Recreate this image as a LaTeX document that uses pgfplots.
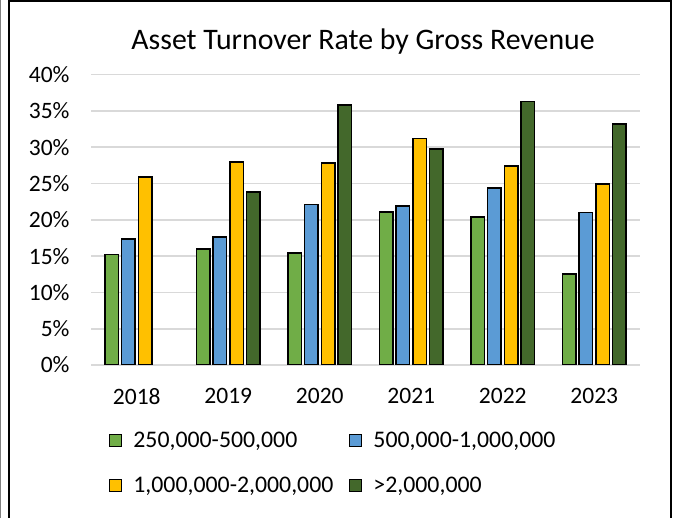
\documentclass[border=0pt]{standalone}
\usepackage{pgfplots}
\pgfplotsset{compat=1.18}
\usepackage{fontspec}
\setmainfont{Carlito}
\definecolor{cgreen}{HTML}{70AD47}
\definecolor{cblue}{HTML}{5B9BD5}
\definecolor{cyellow}{HTML}{FFC000}
\definecolor{cdark}{HTML}{43682B}
\definecolor{cgrid}{HTML}{D9D9D9}
\begin{document}
\begin{tikzpicture}[x=1bp,y=1bp]
\useasboundingbox (0,0) rectangle (675,518);
\fill[white] (0,0) rectangle (675,518);
\draw[line width=1bp,gray] (0.5,-5) -- (0.5,523);
\draw[line width=2.5bp,black] (9,-5) -- (9,517) -- (671,517) -- (671,-5);
\node[font=\fontsize{29.8bp}{34bp}\selectfont] at (363,476) {Asset Turnover Rate by Gross Revenue};
\begin{axis}[
  at={(91bp,153bp)}, anchor=south west,
  scale only axis, width=549bp, height=290.3bp,
  ymin=0, ymax=40, xmin=-0.5, xmax=5.5,
  ybar=3.2bp, bar width=13.5bp,
  xtick={0,1,2,3,4,5},
  xticklabels={2018,2019,2020,2021,2022,2023},
  ytick={0,5,10,15,20,25,30,35,40},
  yticklabel={\pgfmathprintnumber{\tick}\%},
  /pgf/number format/assume math mode=true,
  ymajorgrids, grid style={cgrid, line width=1.6bp},
  axis y line*=left,
  y axis line style={draw=none},
  axis x line*=bottom,
  x axis line style={cgrid, line width=1.6bp, -},
  major tick length=0pt,
  tick label style={font=\fontsize{23.5bp}{27bp}\selectfont},
  yticklabel style={xshift=-18bp},
  xticklabel style={yshift=-20bp},
  legend columns=2,
  legend cell align=left,
  legend style={draw=none, at={(axis description cs:0,0)}, anchor=north west,
     xshift=15bp, yshift=-63bp, font=\fontsize{23.8bp}{27bp}\selectfont,
     /tikz/every odd column/.append style={column sep=9bp},
     /tikz/every even column/.append style={column sep=14bp},
     row sep=24bp},
  legend image code/.code={\draw[#1,line width=1.2bp] (0bp,-6bp) rectangle (12bp,6bp);},
]
\addplot[draw=black, line width=1.6bp, fill=cgreen] coordinates {(0,15.2) (1,16.0) (2,15.4) (3,21.1) (4,20.4) (5,12.5)};
\addplot[draw=black, line width=1.6bp, fill=cblue] coordinates {(0,17.4) (1,17.6) (2,22.1) (3,21.9) (4,24.4) (5,21.0)};
\addplot[draw=black, line width=1.6bp, fill=cyellow] coordinates {(0,25.9) (1,28.0) (2,27.8) (3,31.2) (4,27.4) (5,24.9)};
\addplot[draw=black, line width=1.6bp, fill=cdark] coordinates {(1,23.8) (2,35.8) (3,29.8) (4,36.3) (5,33.2)};
\legend{250{,}000-500{,}000, 500{,}000-1{,}000{,}000, 1{,}000{,}000-2{,}000{,}000, >2{,}000{,}000}
\end{axis}
\end{tikzpicture}
\end{document}
